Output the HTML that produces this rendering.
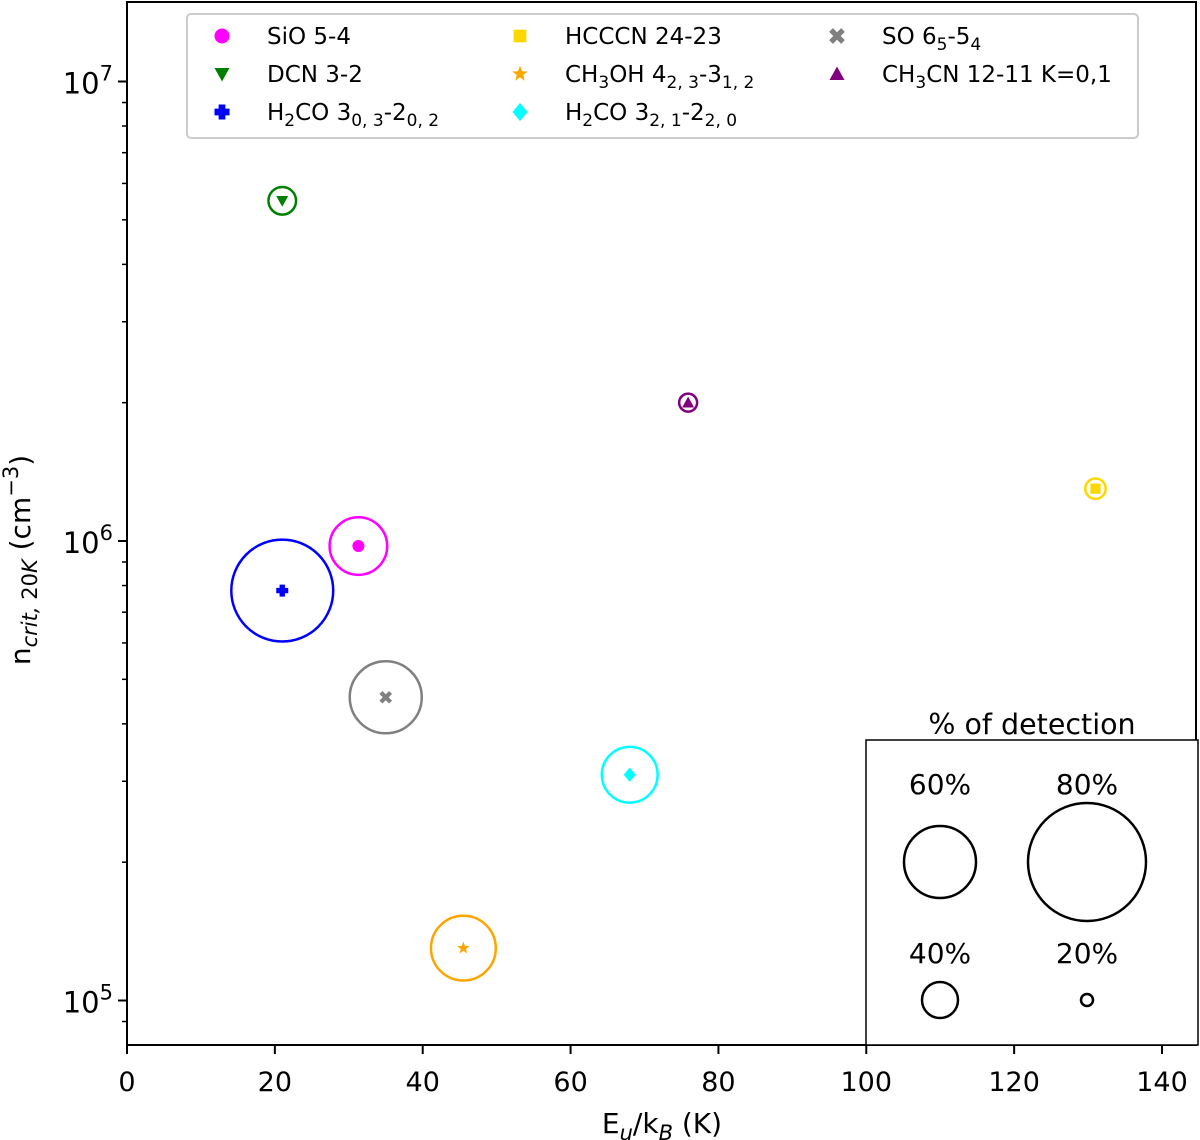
<!DOCTYPE html>
<html><head><meta charset="utf-8"><style>
html,body{margin:0;padding:0;background:#fff;}
svg{display:block;font-family:"DejaVu Sans","Liberation Sans",sans-serif;}
</style></head><body>
<svg id="chart" width="1200" height="1140" viewBox="0 0 1200 1140"></svg>
<script>
const names=["SiO 5-4","DCN 3-2","H2CO 303-202","HCCCN 24-23","CH3OH 423-312","H2CO 321-220","SO 65-54","CH3CN 12-11 K=0,1"];
const energies=[31.3,21.0,21.0,131.0,45.5,68.0,35.0,75.9];
const ncrit=[9.75e5,5.5e6,7.8e5,1.3e6,1.3e5,3.1e5,4.57e5,2.0e6];
const detection=[52,33,73,27,56,51,60,25];
const colors=["#ff00ff","#008000","#0000ff","#ffd700","#ffa500","#00ffff","#808080","#800080"];
const shapes=["circle","tridown","plus","square","star","diamond","x","triup"];
const xTicks=[0,20,40,60,80,100,120,140];
const yTickExps=[5,6,7];
const scalePct=[20,40,60,80];
const scaleR=[6,18,36,59];

const svg=document.getElementById('chart');
const NS="http://www.w3.org/2000/svg";
const L=127,R=1196,T=2,B=1045;
function xs(v){return L+v*(1162-127)/140;}
function ys(v){return 541-(Math.log10(v)-6)*459.5;}
function rad(p){for(let i=0;i<scalePct.length-1;i++){if(p<=scalePct[i+1]||i==scalePct.length-2){const t=(p-scalePct[i])/(scalePct[i+1]-scalePct[i]);return scaleR[i]+t*(scaleR[i+1]-scaleR[i]);}}}
function mk(tag,attrs,parent){const e=document.createElementNS(NS,tag);for(const k in attrs)e.setAttribute(k,attrs[k]);(parent||svg).appendChild(e);return e;}
function marker(shape,cx,cy,s,col,parent){
  let e;
  if(shape=="circle")e=mk('circle',{cx:cx,cy:cy,r:s,fill:col},parent);
  else if(shape=="tridown")e=mk('polygon',{points:`${cx-s},${cy-s*0.8} ${cx+s},${cy-s*0.8} ${cx},${cy+s}`,fill:col},parent);
  else if(shape=="triup")e=mk('polygon',{points:`${cx-s},${cy+s*0.8} ${cx+s},${cy+s*0.8} ${cx},${cy-s}`,fill:col},parent);
  else if(shape=="square")e=mk('rect',{x:cx-s*0.85,y:cy-s*0.85,width:s*1.7,height:s*1.7,fill:col},parent);
  else if(shape=="diamond")e=mk('polygon',{points:`${cx},${cy-s*1.2} ${cx+s},${cy} ${cx},${cy+s*1.2} ${cx-s},${cy}`,fill:col},parent);
  else if(shape=="plus")e=mk('path',{d:`M${cx-s} ${cy}H${cx+s}M${cx} ${cy-s}V${cy+s}`,stroke:col,'stroke-width':s*0.9,fill:'none'},parent);
  else if(shape=="x")e=mk('path',{d:`M${cx-s*0.8} ${cy-s*0.8}L${cx+s*0.8} ${cy+s*0.8}M${cx+s*0.8} ${cy-s*0.8}L${cx-s*0.8} ${cy+s*0.8}`,stroke:col,'stroke-width':s*0.7,fill:'none'},parent);
  else if(shape=="star"){let p=[];for(let i=0;i<10;i++){const a=-Math.PI/2+i*Math.PI/5;const rr=i%2?s*0.45:s*1.1;p.push((cx+rr*Math.cos(a)).toFixed(1)+','+(cy+rr*Math.sin(a)).toFixed(1));}e=mk('polygon',{points:p.join(' '),fill:col},parent);}
  return e;
}
xTicks.forEach(v=>{
  const x=xs(v);
  const t=mk('line',{x1:x,x2:x,y1:B,y2:B+9,stroke:'#000','stroke-width':2});
  
  
  const l=mk('text',{x:x,y:B+46,'font-size':27,'text-anchor':'middle',fill:'#000'});l.textContent=v;
  
  
});
yTickExps.forEach(ex=>{
  const y=ys(Math.pow(10,ex));
  const t=mk('line',{x1:L-9,x2:L,y1:y,y2:y,stroke:'#000','stroke-width':2});
  
  
  const l=mk('text',{x:L-14,y:y+12,'font-size':29,'text-anchor':'end',fill:'#000'});
  l.innerHTML='10<tspan dy="-13" font-size="21">'+ex+'</tspan>';
  
  
});
for(let ex=4;ex<=7;ex++)for(let m=2;m<=9;m++){
  const y=ys(m*Math.pow(10,ex));
  if(y<T||y>B)continue;
  const t=mk('line',{x1:L-5,x2:L,y1:y,y2:y,stroke:'#000','stroke-width':1.5});
  
  
}
const fr=mk('rect',{x:L,y:T,width:R-L,height:B-T,fill:'none',stroke:'#000','stroke-width':2});


names.forEach((n,i)=>{
  const g=mk('g',{});
  
  
  const cx=xs(energies[i]),cy=ys(ncrit[i]);
  mk('circle',{cx:cx,cy:cy,r:rad(detection[i]),fill:'none',stroke:colors[i],'stroke-width':2.5},g);
  marker(shapes[i],cx,cy,6,colors[i],g);
});
const xt=mk('text',{x:662,y:1133,'font-size':28,'text-anchor':'middle'});
xt.innerHTML='E<tspan dy="7" font-size="21" font-style="italic">u</tspan><tspan dy="-7">/k</tspan><tspan dy="7" font-size="21" font-style="italic">B</tspan><tspan dy="-7"> (K)</tspan>';


const yt=mk('text',{x:0,y:0,'font-size':28,'text-anchor':'middle',transform:'translate(30,560) rotate(-90)'});
yt.innerHTML='n<tspan dy="7" font-size="21" font-style="italic">crit,</tspan><tspan font-size="21"> 20</tspan><tspan font-size="21" font-style="italic">K</tspan><tspan dy="-7"> (cm</tspan><tspan dy="-12" font-size="21">−3</tspan><tspan dy="12">)</tspan>';


const lg=mk('g',{});


mk('rect',{x:187,y:14,width:951,height:124,rx:4,fill:'#fff',stroke:'#ccc','stroke-width':2},lg);
const labels=['SiO 5-4','DCN 3-2','H<tspan dy="6" font-size="17">2</tspan><tspan dy="-6">CO 3</tspan><tspan dy="6" font-size="17">0, 3</tspan><tspan dy="-6">-2</tspan><tspan dy="6" font-size="17">0, 2</tspan>',
'HCCCN 24-23','CH<tspan dy="6" font-size="17">3</tspan><tspan dy="-6">OH 4</tspan><tspan dy="6" font-size="17">2, 3</tspan><tspan dy="-6">-3</tspan><tspan dy="6" font-size="17">1, 2</tspan>',
'H<tspan dy="6" font-size="17">2</tspan><tspan dy="-6">CO 3</tspan><tspan dy="6" font-size="17">2, 1</tspan><tspan dy="-6">-2</tspan><tspan dy="6" font-size="17">2, 0</tspan>',
'SO 6<tspan dy="6" font-size="17">5</tspan><tspan dy="-6">-5</tspan><tspan dy="6" font-size="17">4</tspan>',
'CH<tspan dy="6" font-size="17">3</tspan><tspan dy="-6">CN 12-11 K=0,1</tspan>'];
const colX=[222,520,837],rowY=[36,74,112];
names.forEach((n,i)=>{
  const c=Math.floor(i/3),r=i%3;
  const e=mk('g',{},lg);
  
  
  marker(shapes[i],colX[c],rowY[r],7.5,colors[i],e);
  const t=mk('text',{x:colX[c]+45,y:rowY[r]+8,'font-size':23},e);
  t.innerHTML=labels[i];
});
const sg=mk('g',{});


mk('rect',{x:866,y:740,width:332,height:305,fill:'#fff',stroke:'#000','stroke-width':1.5},sg);
const st=mk('text',{x:1032,y:734,'font-size':28.5,'text-anchor':'middle'},sg);st.textContent='% of detection';
const pos=[[1087,1000],[940,1000],[940,862],[1087,862]];
scalePct.forEach((p,i)=>{
  const [cx,cy]=pos[i];
  mk('circle',{cx:cx,cy:cy,r:scaleR[i],fill:'none',stroke:'#000','stroke-width':2.5},sg);
  const t=mk('text',{x:cx,y:i<2?963:794,'font-size':28,'text-anchor':'middle'},sg);
  t.textContent=p+'%';
});
</script>
</body></html>
